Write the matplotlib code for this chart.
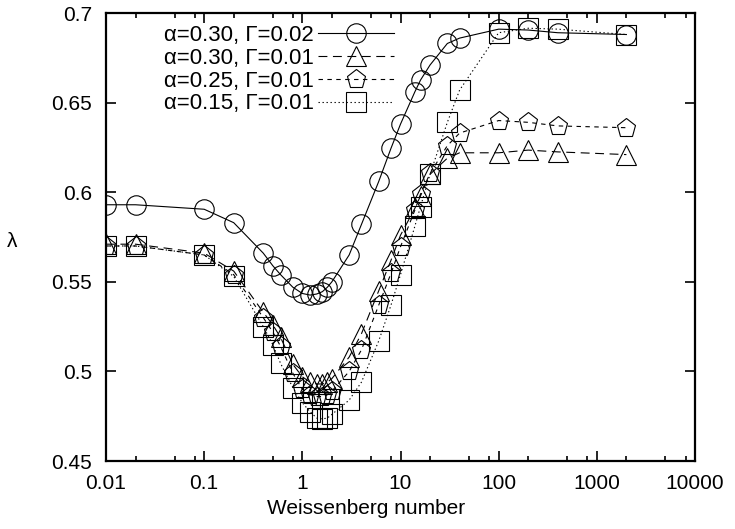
import matplotlib
matplotlib.use("Agg")
import matplotlib.pyplot as plt
from matplotlib.ticker import FixedLocator, NullFormatter

plt.rcParams['font.family'] = ['Liberation Sans', 'DejaVu Sans']

# Weissenberg numbers shared by all four runs
wi = [0.01, 0.02, 0.1, 0.2, 0.4, 0.5, 0.6, 0.8, 1, 1.2, 1.4, 1.6, 1.8, 2,
      3, 4, 6, 8, 10, 14, 16, 20, 30, 40, 100, 200, 400, 2000]

lam_a30_g02 = [0.593, 0.593, 0.5905, 0.583, 0.566, 0.559, 0.554, 0.547, 0.5435,
               0.5426, 0.5432, 0.5445, 0.547, 0.550, 0.565, 0.582, 0.606, 0.6245,
               0.638, 0.656, 0.6626, 0.671, 0.683, 0.686, 0.691, 0.6905, 0.689, 0.688]
lam_a30_g01 = [0.571, 0.571, 0.566, 0.556, 0.533, 0.526, 0.519, 0.504, 0.497,
               0.494, 0.493, 0.493, 0.494, 0.496, 0.508, 0.521, 0.545, 0.562,
               0.576, 0.591, 0.598, 0.610, 0.619, 0.622, 0.622, 0.6235, 0.6225, 0.621]
lam_a25_g01 = [0.570, 0.570, 0.565, 0.554, 0.530, 0.522, 0.514, 0.499, 0.490,
               0.487, 0.486, 0.486, 0.487, 0.489, 0.500, 0.512, 0.537, 0.5547,
               0.5696, 0.590, 0.599, 0.6105, 0.626, 0.633, 0.640, 0.639, 0.637, 0.636]
lam_a15_g01 = [0.570, 0.570, 0.565, 0.553, 0.525, 0.515, 0.5045, 0.491, 0.4825,
               0.4775, 0.474, 0.4735, 0.474, 0.476, 0.484, 0.494, 0.517, 0.537,
               0.554, 0.581, 0.592, 0.610, 0.639, 0.657, 0.689, 0.6915, 0.691, 0.688]

labels = ['α=0.30, Γ=0.02', 'α=0.30, Γ=0.01', 'α=0.25, Γ=0.01', 'α=0.15, Γ=0.01']

xticks = [0.01, 0.1, 1, 10, 100, 1000, 10000]
xticklabels = ['0.01', '0.1', '1', '10', '100', '1000', '10000']
yticks = [0.45, 0.5, 0.55, 0.6, 0.65, 0.7]
yticklabels = ['0.45', '0.5', '0.55', '0.6', '0.65', '0.7']

fig = plt.figure(figsize=(7.35, 5.29), dpi=100)
ax = fig.add_axes([0.1442, 0.1285, 0.8014, 0.8469])

series = [
    (lam_a30_g02, 'o', '-'),
    (lam_a30_g01, '^', (0, (8, 5))),
    (lam_a25_g01, 'p', (0, (4, 4))),
    (lam_a15_g01, 's', (0, (1.2, 2.4))),
]
for (ys, mk, ls), lab in zip(series, labels):
    ax.plot(wi, ys, color='black', linestyle=ls, linewidth=0.8,
            marker=mk, markersize=14, markerfacecolor='none',
            markeredgecolor='black', markeredgewidth=0.8, label=lab)

ax.set_xscale('log')
ax.set_xlim(0.01, 10000)
ax.set_ylim(0.45, 0.7)

ax.xaxis.set_major_locator(FixedLocator(xticks))
ax.set_xticklabels(xticklabels)
minor = [m * 10.0 ** e for e in range(-2, 4) for m in (2, 5, 8)]
ax.xaxis.set_minor_locator(FixedLocator(minor))
ax.xaxis.set_minor_formatter(NullFormatter())
ax.set_yticks(yticks)
ax.set_yticklabels(yticklabels)

ax.tick_params(which='both', direction='in', top=True, right=True,
               labelsize=15, width=1.2)
ax.tick_params(which='major', length=7)
ax.tick_params(which='minor', length=3.5)
ax.tick_params(axis='x', pad=9)
ax.tick_params(axis='y', pad=10)
for sp in ax.spines.values():
    sp.set_linewidth(1.6)

ax.set_xlabel('Weissenberg number', fontsize=15)
ax.xaxis.set_label_coords(0.441, -0.085)
ax.set_ylabel('λ', fontsize=15, rotation=0, va='center', ha='center')
ax.yaxis.set_label_coords(-0.16, 0.49)

ax.legend(loc='upper right', bbox_to_anchor=(0.507, 0.998), frameon=False,
          markerfirst=False, numpoints=1, handlelength=3.4,
          labelspacing=0.08, handletextpad=0.2, borderaxespad=0.1,
          fontsize=16)

fig.savefig('out.png', dpi=100)
